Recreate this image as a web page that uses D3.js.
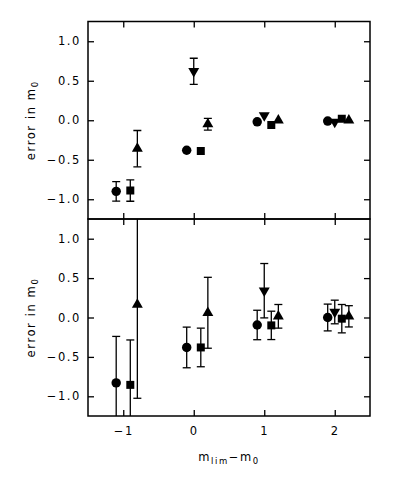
<!DOCTYPE html>
<html><head><meta charset="utf-8">
<script src="https://cdn.jsdelivr.net/npm/d3@7"></script>
<style>
html,body{margin:0;padding:0;background:#fff;}
svg{display:block;}
text{font-family:"DejaVu Sans",sans-serif;fill:#000;}
</style></head>
<body>
<script>
// ---- data ----
const xTickValues = [-1, 0, 1, 2];
const yTickValues = [-1, -0.5, 0, 0.5, 1];
const xTitle = "m_lim−m_0";
const yTitle = "error in m_0";

// top panel
const topCircleX = [-1.1, -0.1, 0.9, 1.9];
const topCircleY = [-0.90, -0.38, -0.02, -0.01];
const topCircleErr = [0.124, null, null, null];
const topSquareX = [-0.9, 0.1, 1.1, 2.1];
const topSquareY = [-0.89, -0.39, -0.06, 0.02];
const topSquareErr = [0.135, null, null, null];
const topUpX = [-0.8, 0.2, 1.2, 2.2];
const topUpY = [-0.36, -0.05, 0.0, 0.0];
const topUpErr = [0.23, 0.074, null, null];
const topDownX = [0.0, 1.0, 2.0];
const topDownY = [0.62, 0.06, -0.02];
const topDownErr = [0.165, null, null];

// bottom panel
const botCircleX = [-1.1, -0.1, 0.9, 1.9];
const botCircleY = [-0.83, -0.38, -0.095, 0.0];
const botCircleErr = [0.59, 0.258, 0.187, 0.17];
const botSquareX = [-0.9, 0.1, 1.1, 2.1];
const botSquareY = [-0.855, -0.38, -0.10, -0.015];
const botSquareErr = [0.57, 0.245, 0.18, 0.18];
const botUpX = [-0.8, 0.2, 1.2, 2.2];
const botUpY = [0.165, 0.06, 0.015, 0.015];
const botUpErr = [1.19, 0.45, 0.15, 0.135];
const botDownX = [1.0, 2.0];
const botDownY = [0.34, 0.07];
const botDownErr = [0.345, 0.15];

// ---- layout ----
const W = 396, H = 489;
const L = 88, R = 370, T = 21.5, M = 219, B = 416;

const svg = d3.select("body").append("svg").attr("width", W).attr("height", H);

const x = d3.scaleLinear().domain([-1.5, 2.5]).range([L, R]);
const yTop = d3.scaleLinear().domain([-1.25, 1.25]).range([M, T]);
const yBot = d3.scaleLinear().domain([-1.25, 1.25]).range([B, M]);

function zipSeries(xs, ys, es) { return xs.map((v, i) => ({x: v, y: ys[i], e: es[i]})); }

const panels = [
  {y: yTop, top: T, bottom: M, id: "cTop", showX: false, series: [
    {type: "circle", d: zipSeries(topCircleX, topCircleY, topCircleErr)},
    {type: "square", d: zipSeries(topSquareX, topSquareY, topSquareErr)},
    {type: "up", d: zipSeries(topUpX, topUpY, topUpErr)},
    {type: "down", d: zipSeries(topDownX, topDownY, topDownErr)}
  ]},
  {y: yBot, top: M, bottom: B, id: "cBot", showX: true, series: [
    {type: "circle", d: zipSeries(botCircleX, botCircleY, botCircleErr)},
    {type: "square", d: zipSeries(botSquareX, botSquareY, botSquareErr)},
    {type: "up", d: zipSeries(botUpX, botUpY, botUpErr)},
    {type: "down", d: zipSeries(botDownX, botDownY, botDownErr)}
  ]}
];

const sym = {
  circle: d3.symbol().type(d3.symbolCircle).size(70)(),
  square: d3.symbol().type(d3.symbolSquare).size(64)(),
  up: d3.symbol().type(d3.symbolTriangle).size(52)(),
  down: d3.symbol().type(d3.symbolTriangle).size(52)()
};

const defs = svg.append("defs");
const fmtY = d3.format(".1f");
const fmtX = d3.format("d");
const fontStyle = s => s.style("font-size", "11.5px").style("letter-spacing", "1.6px");

panels.forEach(p => {
  defs.append("clipPath").attr("id", p.id).append("rect")
    .attr("x", L).attr("y", p.top).attr("width", R - L).attr("height", p.bottom - p.top);

  const g = svg.append("g");
  const plot = g.append("g").attr("clip-path", `url(#${p.id})`);
  const cap = 4;
  p.series.forEach(s => {
    const pts = s.d;
    const eb = plot.append("g").attr("stroke", "#000").attr("stroke-width", 1.3).attr("fill", "none");
    pts.filter(d => d.e != null).forEach(d => {
      const cx = x(d.x), y1 = p.y(d.y + d.e), y2 = p.y(d.y - d.e);
      eb.append("line").attr("x1", cx).attr("x2", cx).attr("y1", y1).attr("y2", y2);
      eb.append("line").attr("x1", cx - cap).attr("x2", cx + cap).attr("y1", y1).attr("y2", y1);
      eb.append("line").attr("x1", cx - cap).attr("x2", cx + cap).attr("y1", y2).attr("y2", y2);
    });
    plot.append("g").selectAll("path").data(pts).join("path")
      .attr("d", sym[s.type])
      .attr("fill", "#000")
      .attr("transform", d => `translate(${x(d.x)},${p.y(d.y)})` + (s.type === "down" ? " rotate(180)" : ""));
  });

  // axes with inward ticks
  const yl = g.append("g").attr("transform", `translate(${L},0)`)
    .call(d3.axisLeft(p.y).tickValues(yTickValues).tickFormat(fmtY).tickSizeInner(-6).tickSizeOuter(0).tickPadding(7));
  const yr = g.append("g").attr("transform", `translate(${R},0)`)
    .call(d3.axisRight(p.y).tickValues(yTickValues).tickFormat("").tickSizeInner(-6).tickSizeOuter(0));
  const xt = g.append("g").attr("transform", `translate(0,${p.top})`)
    .call(d3.axisTop(x).tickValues(xTickValues).tickFormat("").tickSizeInner(-6).tickSizeOuter(0));
  const xb = g.append("g").attr("transform", `translate(0,${p.bottom})`)
    .call(d3.axisBottom(x).tickValues(xTickValues).tickFormat(p.showX ? fmtX : "").tickSizeInner(-6).tickSizeOuter(0).tickPadding(11));
  [yl, yr, xt, xb].forEach(a => {
    a.select(".domain").remove();
    a.selectAll(".tick line").attr("stroke", "#000").attr("stroke-width", 1.3);
    a.selectAll("text").attr("fill", "#000").style("font-family", "DejaVu Sans, sans-serif").call(fontStyle);
  });

  g.append("rect").attr("x", L).attr("y", p.top).attr("width", R - L).attr("height", p.bottom - p.top)
    .attr("fill", "none").attr("stroke", "#000").attr("stroke-width", 1.5);

  // y title
  const parts = yTitle.split("_");
  const yt = g.append("text")
    .attr("transform", `translate(35,${(p.top + p.bottom) / 2}) rotate(-90)`)
    .attr("text-anchor", "middle").call(fontStyle);
  yt.append("tspan").text(parts[0]);
  yt.append("tspan").attr("baseline-shift", "-30%").style("font-size", "8.5px").text(parts[1]);
});

// x title
const xp = xTitle.split(/_|−/);
const xtitle = svg.append("text").attr("x", (L + R) / 2).attr("y", 461)
  .attr("text-anchor", "middle").call(fontStyle);
xtitle.append("tspan").text(xp[0]);
xtitle.append("tspan").attr("baseline-shift", "-30%").style("font-size", "8.5px").text(xp[1]);
xtitle.append("tspan").text("−" + xp[2]);
xtitle.append("tspan").attr("baseline-shift", "-30%").style("font-size", "8.5px").text(xp[3]);
</script>
</body></html>
